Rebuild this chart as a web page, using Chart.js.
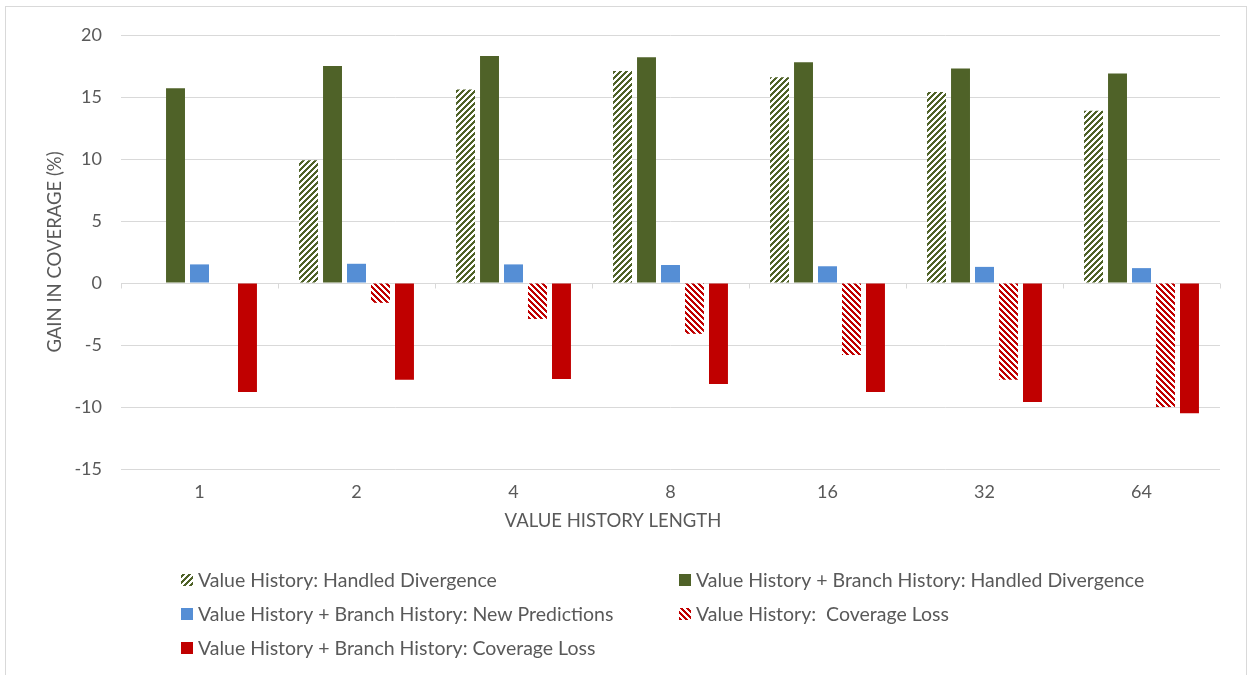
<!DOCTYPE html>
<html><head><meta charset="utf-8">
<script src="https://cdn.jsdelivr.net/npm/chart.js@4"></script>
<style>html,body{margin:0;padding:0;background:#fff;}#wrap{width:1253px;height:675px;position:relative;}</style>
</head><body><div id="wrap"><canvas id="c" width="1253" height="675"></canvas></div>
<script>
const categories = ['1', '2', '4', '8', '16', '32', '64'];
const vhHandled      = [null, 9.9, 15.6, 17.1, 16.6, 15.4, 13.9];
const vhbhHandled    = [15.7, 17.5, 18.3, 18.2, 17.8, 17.3, 16.9];
const vhbhNewPred    = [1.5, 1.55, 1.5, 1.45, 1.35, 1.3, 1.2];
const vhLoss         = [null, -1.6, -2.9, -4.1, -5.8, -7.8, -10.0];
const vhbhLoss       = [-8.8, -7.8, -7.75, -8.15, -8.8, -9.6, -10.5];
const seriesLabels = [
  'Value History: Handled Divergence',
  'Value History + Branch History: Handled Divergence',
  'Value History + Branch History: New Predictions',
  'Value History:  Coverage Loss',
  'Value History + Branch History: Coverage Loss'
];
const yTicks = [-15, -10, -5, 0, 5, 10, 15, 20];
const xTitle = 'VALUE HISTORY LENGTH';
const yTitle = 'GAIN IN COVERAGE (%)';

const GREEN = '#4F6228', BLUE = '#558ED5', RED = '#C00000', TXT = '#595959', GRID = '#D9D9D9';
const FONT = 'Lato';

const canvas = document.getElementById('c');
const mainCtx = canvas.getContext('2d');
function hatch(color, dir) {
  const p = 6;
  const c = document.createElement('canvas'); c.width = p; c.height = p;
  const g = c.getContext('2d');
  g.fillStyle = '#fff'; g.fillRect(0, 0, p, p);
  g.fillStyle = color;
  for (let x = 0; x < p; x++) for (let y = 0; y < p; y++) {
    const k = dir === 'up' ? (x + y) % p : (((x - y) % p) + p) % p;
    if (k < 3) g.fillRect(x, y, 1, 1);
  }
  return mainCtx.createPattern(c, 'repeat');
}

const frame = {
  id: 'frame',
  beforeDraw(chart) {
    const ctx = chart.ctx;
    ctx.save();
    ctx.fillStyle = '#fff'; ctx.fillRect(0, 0, chart.width, chart.height);
    ctx.strokeStyle = GRID; ctx.lineWidth = 1;
    ctx.strokeRect(5.5, 6.5, 1241, 700);
    ctx.restore();
  }
};
const axisTicks = {
  id: 'axisTicks',
  beforeDatasetsDraw(chart) {
    const ctx = chart.ctx, xs = chart.scales.x, ys = chart.scales.y;
    const y0 = Math.round(ys.getPixelForValue(0)) + 0.5;
    ctx.save();
    ctx.strokeStyle = GRID; ctx.lineWidth = 1;
    ctx.beginPath();
    ctx.moveTo(xs.left, y0); ctx.lineTo(xs.right, y0);
    for (let i = 0; i <= categories.length; i++) {
      const x = Math.round(xs.getPixelForValue(i - 0.5)) + 0.5;
      ctx.moveTo(x, y0); ctx.lineTo(x, y0 + 5);
    }
    ctx.stroke();
    ctx.restore();
  }
};
const xTitlePlugin = {
  id: 'xTitlePlugin',
  afterDraw(chart) {
    const ctx = chart.ctx;
    ctx.save();
    ctx.font = '18.5px ' + FONT; ctx.fillStyle = TXT;
    ctx.textAlign = 'center'; ctx.textBaseline = 'middle';
    ctx.fillText(xTitle, 613, 521);
    ctx.restore();
  }
};
const legend2col = {
  id: 'legend2col',
  afterDraw(chart) {
    const ctx = chart.ctx, ds = chart.data.datasets;
    const cols = [181, 679], rows = [580, 614, 648];
    ctx.save();
    ctx.font = '19.5px ' + FONT; ctx.textBaseline = 'middle'; ctx.textAlign = 'left';
    ds.forEach((d, i) => {
      const x = cols[i % 2], y = rows[Math.floor(i / 2)];
      ctx.fillStyle = d.backgroundColor;
      ctx.fillRect(x, y - 6, 12, 12);
      ctx.fillStyle = TXT;
      ctx.fillText(d.label, x + 17, y + 1);
    });
    ctx.restore();
  }
};

const colors = [hatch(GREEN, 'up'), GREEN, BLUE, hatch(RED, 'down'), RED];
const series = [vhHandled, vhbhHandled, vhbhNewPred, vhLoss, vhbhLoss];

new Chart(canvas, {
  type: 'bar',
  data: {
    labels: categories,
    datasets: series.map((s, i) => ({
      label: seriesLabels[i], data: s, backgroundColor: colors[i], borderWidth: 0,
      categoryPercentage: 0.764, barPercentage: 0.79
    }))
  },
  options: {
    responsive: false, animation: false, devicePixelRatio: 1,
    layout: { padding: { left: 0, right: 33, top: 35, bottom: 144 } },
    plugins: { legend: { display: false }, tooltip: { enabled: false } },
    scales: {
      x: {
        grid: { display: false, drawTicks: false }, border: { display: false },
        ticks: { color: TXT, font: { family: FONT, size: 18 }, padding: 12 },
        title: { display: false },
        afterFit(s) { s.height = 62; }
      },
      y: {
        min: -15, max: 20,
        afterBuildTicks(s) { s.ticks = yTicks.map(v => ({ value: v })); },
        grid: { color: GRID, drawTicks: false, lineWidth: 1 }, border: { display: false },
        ticks: { color: TXT, font: { family: FONT, size: 18 }, padding: 19 },
        title: { display: true, text: yTitle, color: TXT, font: { family: FONT, size: 18.5 }, padding: { top: 44, bottom: 0 } },
        afterFit(s) { s.width = 121; }
      }
    }
  },
  plugins: [frame, axisTicks, xTitlePlugin, legend2col]
});
</script></body></html>
